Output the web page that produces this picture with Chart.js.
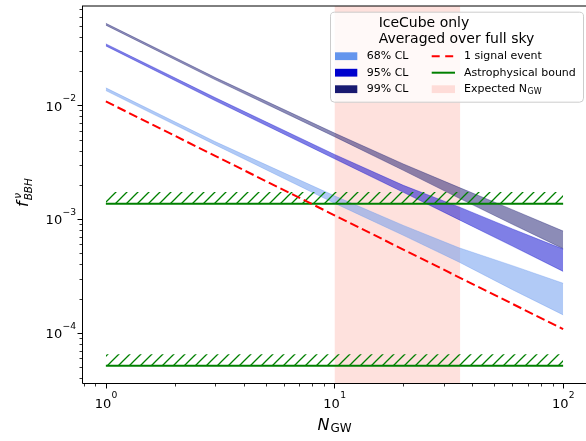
<!DOCTYPE html>
<html>
<head>
<meta charset="utf-8">
<script src="https://cdn.jsdelivr.net/npm/chart.js@4.4.0/dist/chart.umd.min.js"></script>
<style>
  body { margin: 0; background: #fff; }
  #wrap { position: relative; width: 586px; height: 441px; }
</style>
</head>
<body>
<div id="wrap"><canvas id="myChart" width="586" height="441"></canvas></div>
<script>
// values
var nGw = [1, 3, 10, 20, 35, 60, 100];
var cl99Lo = [0.0505, 0.0168, 0.00530, 0.00268, 0.00153, 0.00090, 0.00055];
var cl99Hi = [0.0525, 0.0176, 0.00570, 0.00305, 0.00190, 0.00121, 0.000785];
var cl95Lo = [0.0332, 0.0110, 0.00339, 0.00172, 0.000988, 0.000579, 0.000347];
var cl95Hi = [0.0346, 0.0117, 0.00370, 0.00198, 0.00128, 0.00082, 0.000545];
var cl68Lo = [0.01346, 0.00450, 0.00138, 0.00072, 0.00042, 0.00024, 0.000144];
var cl68Hi = [0.01422, 0.00480, 0.00160, 0.00088, 0.00056, 0.00039, 0.000273];

var signalN = [1, 100];
var signalF = [0.0108, 0.000108];

var boundN = [1, 100];
var boundUpper = [0.001365, 0.001365];
var boundUpperHatch = [0.00173, 0.00173];
var boundLower = [0.0000514, 0.0000514];
var boundLowerHatch = [0.000065, 0.000065];

var expectedN = [10, 35.5];

// tick labels are 10^exp
var xTickVals = [1, 10, 100];
var xTickExp = ['0', '1', '2'];
var yTickVals = [1e-4, 1e-3, 1e-2];
var yTickExp = ['\u22124', '\u22123', '\u22122'];

var xMin = 0.7943, xMax = 125.9;
var yMin = 3.63e-5, yMax = 0.0745;

var FONT = '"DejaVu Sans", sans-serif';

function pts(xs, ys) {
    return xs.map(function (x, i) { return { x: x, y: ys[i] }; });
}

var ctx = document.getElementById('myChart');
var c2d = ctx.getContext('2d');

// green hatch like matplotlib '///'
function makeHatch(color) {
    var s = 11;
    var pc = document.createElement('canvas');
    pc.width = s; pc.height = s;
    var g = pc.getContext('2d');
    g.strokeStyle = color;
    g.lineWidth = 1.3;
    g.beginPath();
    g.moveTo(0, s); g.lineTo(s, 0);
    g.moveTo(-2, 2); g.lineTo(2, -2);
    g.moveTo(s - 2, s + 2); g.lineTo(s + 2, s - 2);
    g.stroke();
    return c2d.createPattern(pc, 'repeat');
}
var hatch = makeHatch('#008000');

var c68 = 'rgba(100,149,237,0.5)';
var c95 = 'rgba(0,0,205,0.5)';
var c99 = 'rgba(25,25,112,0.5)';
var pink = 'rgba(250,128,114,0.24)';
var c68solid = '#6495ed', c95solid = '#0000cd', c99solid = '#191970';

function minorVals(min, max) {
    var out = [];
    for (var d = Math.floor(Math.log10(min)); d <= Math.ceil(Math.log10(max)); d++) {
        for (var m = 1; m < 10; m++) {
            var v = m * Math.pow(10, d);
            if (v >= min && v <= max) out.push({ v: v, major: m === 1 });
        }
    }
    return out;
}

// "10" with a raised exponent, anchor: 'center' (x axis) or 'right' (y axis)
function powLabel(c, exp, x, base, anchor) {
    c.font = '13px ' + FONT;
    var w1 = c.measureText('10').width;
    c.font = '9.2px ' + FONT;
    var w2 = c.measureText(exp).width;
    var x0 = anchor === 'center' ? x - (w1 + w2) / 2 : x - (w1 + w2);
    c.font = '13px ' + FONT;
    c.fillText('10', x0, base);
    c.font = '9.2px ' + FONT;
    c.fillText(exp, x0 + w1 + 0.3, base - 9.7);
}

function drawLegend(c, a) {
    var w = 253, h = 90;
    var x0 = a.right - 3 - w, y0 = a.top + 5.7;
    c.save();
    c.beginPath();
    c.roundRect(x0 + 0.5, y0 + 0.5, w, h, 4);
    c.fillStyle = 'rgba(255,255,255,0.8)';
    c.fill();
    c.strokeStyle = '#cccccc';
    c.lineWidth = 1;
    c.stroke();

    // title, lines left aligned, block centred
    c.fillStyle = '#000';
    c.font = '14px ' + FONT;
    c.textBaseline = 'alphabetic';
    c.textAlign = 'left';
    var t1 = 'IceCube only', t2 = 'Averaged over full sky';
    var tw = Math.max(c.measureText(t1).width, c.measureText(t2).width);
    var tx = x0 + w / 2 - tw / 2;
    c.fillText(t1, tx, y0 + 15.6);
    c.fillText(t2, tx, y0 + 31.6);

    var rows = [y0 + 44.5, y0 + 61, y0 + 77.5];
    c.font = '11px ' + FONT;
    c.textBaseline = 'middle';
    var col1 = [[c68solid, '68% CL'], [c95solid, '95% CL'], [c99solid, '99% CL']];
    for (var i = 0; i < 3; i++) {
        c.fillStyle = col1[i][0];
        c.fillRect(x0 + 5, rows[i] - 3.9, 22.3, 7.8);
        c.fillStyle = '#000';
        c.fillText(col1[i][1], x0 + 36.7, rows[i]);
    }
    var hx = x0 + 101.7, hw = 23.3, txx = x0 + 134;
    // red dashed
    c.strokeStyle = '#ff0000';
    c.lineWidth = 2;
    c.setLineDash([8, 5.5]);
    c.beginPath(); c.moveTo(hx, rows[0]); c.lineTo(hx + hw, rows[0]); c.stroke();
    c.setLineDash([]);
    c.fillStyle = '#000';
    c.fillText('1 signal event', txx, rows[0]);
    // green
    c.strokeStyle = '#008000';
    c.beginPath(); c.moveTo(hx, rows[1]); c.lineTo(hx + hw, rows[1]); c.stroke();
    c.fillText('Astrophysical bound', txx, rows[1]);
    // pink patch
    c.fillStyle = pink;
    c.fillRect(hx, rows[2] - 3.9, hw, 7.8);
    c.fillStyle = '#000';
    c.fillText('Expected N', txx, rows[2]);
    var ew = c.measureText('Expected N').width;
    c.font = '8px ' + FONT;
    c.fillText('GW', txx + ew + 0.5, rows[2] + 2.5);
    c.restore();
}

var decor = {
    id: 'decor',
    afterDraw: function (chart) {
        var c = chart.ctx, a = chart.chartArea;
        var xs = chart.scales.x, ys = chart.scales.y;
        c.save();
        // spines
        c.strokeStyle = '#000';
        c.lineWidth = 1;
        c.beginPath();
        c.moveTo(a.left - 0.5, a.top); c.lineTo(a.left - 0.5, a.bottom + 0.5);
        c.lineTo(a.right + 1, a.bottom + 0.5);
        c.moveTo(a.left - 1, a.top); c.lineTo(a.right + 1, a.top);
        c.stroke();
        // ticks
        minorVals(xMin, xMax).forEach(function (t) {
            var px = Math.round(xs.getPixelForValue(t.v)) + 0.5;
            c.lineWidth = t.major ? 1 : 0.8;
            c.beginPath();
            c.moveTo(px, a.bottom + 0.5);
            c.lineTo(px, a.bottom + (t.major ? 5.5 : 3.5));
            c.stroke();
        });
        minorVals(yMin, yMax).forEach(function (t) {
            var py = Math.round(ys.getPixelForValue(t.v)) + 0.5;
            c.lineWidth = t.major ? 1 : 0.8;
            c.beginPath();
            c.moveTo(a.left - 0.5, py);
            c.lineTo(a.left - (t.major ? 5.5 : 3.5), py);
            c.stroke();
        });
        // tick labels
        c.fillStyle = '#000';
        c.textBaseline = 'alphabetic';
        c.textAlign = 'left';
        xTickVals.forEach(function (v, i) {
            powLabel(c, xTickExp[i], xs.getPixelForValue(v), a.bottom + 25, 'center');
        });
        yTickVals.forEach(function (v, i) {
            powLabel(c, yTickExp[i], a.left - 7.3, ys.getPixelForValue(v) + 5.3, 'right');
        });
        // x title: N_GW
        c.font = 'italic 16px ' + FONT;
        var wn = c.measureText('N').width;
        c.font = '12px ' + FONT;
        var wg = c.measureText('GW').width;
        var cx = (a.left + a.right) / 2 - (wn + wg + 1) / 2;
        c.font = 'italic 16px ' + FONT;
        c.fillText('N', cx, a.bottom + 47);
        c.font = '12px ' + FONT;
        c.fillText('GW', cx + wn + 1, a.bottom + 49);
        // y title: f^nu_BBH
        c.save();
        c.translate(28, 192);
        c.rotate(-Math.PI / 2);
        c.font = 'italic 16px ' + FONT;
        var wf = c.measureText('f').width;
        c.font = 'italic 10.5px ' + FONT;
        var wb = c.measureText('BBH').width;
        var sx = -(wf + 2 + wb) / 2;
        c.font = 'italic 16px ' + FONT;
        c.fillText('f', sx, 0);
        c.font = 'italic 10.5px ' + FONT;
        c.fillText('\u03bd', sx + wf + 2.5, -7.5);
        c.fillText('BBH', sx + wf + 1, 3.5);
        c.restore();

        c.restore();
        drawLegend(c, a);
    }
};

function band(hi, lo, color, order) {
    return [{
        data: pts(nGw, hi), borderColor: color, borderWidth: 0.7,
        backgroundColor: color, fill: '+1', order: order
    }, {
        data: pts(nGw, lo), borderColor: color, borderWidth: 0.7,
        backgroundColor: color, fill: false, order: order
    }];
}

var datasets = [
    { data: pts(signalN, signalF), borderColor: '#ff0000', borderWidth: 2, borderDash: [9, 4], fill: false, order: 1 },
    { data: pts(boundN, boundUpper), borderColor: '#008000', borderWidth: 2, fill: false, order: 2 },
    { data: pts(boundN, boundUpperHatch), borderWidth: 0, borderColor: 'rgba(0,0,0,0)', backgroundColor: hatch, fill: '-1', order: 3 },
    { data: pts(boundN, boundLower), borderColor: '#008000', borderWidth: 2, fill: false, order: 2 },
    { data: pts(boundN, boundLowerHatch), borderWidth: 0, borderColor: 'rgba(0,0,0,0)', backgroundColor: hatch, fill: '-1', order: 3 }
].concat(band(cl68Hi, cl68Lo, c68, 5))
 .concat(band(cl95Hi, cl95Lo, c95, 6))
 .concat(band(cl99Hi, cl99Lo, c99, 7))
 .concat([{
    data: [{ x: expectedN[0], y: yMax }, { x: expectedN[1], y: yMax }],
    borderWidth: 0, borderColor: 'rgba(0,0,0,0)', backgroundColor: pink, fill: 'start', order: 10
 }]);

function noPad(s) {
    s.paddingLeft = 0; s.paddingRight = 0; s.paddingTop = 0; s.paddingBottom = 0;
}

var myChart = new Chart(ctx, {
    type: 'line',
    data: { datasets: datasets },
    options: {
        responsive: false,
        animation: false,
        devicePixelRatio: 1,
        events: [],
        elements: { point: { radius: 0 }, line: { tension: 0 } },
        layout: { padding: { top: 6, right: 0, left: 0, bottom: 0 } },
        plugins: { legend: { display: false }, tooltip: { enabled: false } },
        scales: {
            x: {
                type: 'logarithmic', min: xMin, max: xMax,
                grid: { display: false, drawTicks: false },
                border: { display: false },
                ticks: { display: false },
                afterFit: function (s) { s.height = 58; noPad(s); }
            },
            y: {
                type: 'logarithmic', min: yMin, max: yMax,
                grid: { display: false, drawTicks: false },
                border: { display: false },
                ticks: { display: false },
                afterFit: function (s) { s.width = 83; noPad(s); }
            }
        }
    },
    plugins: [decor]
});
</script>
</body>
</html>
